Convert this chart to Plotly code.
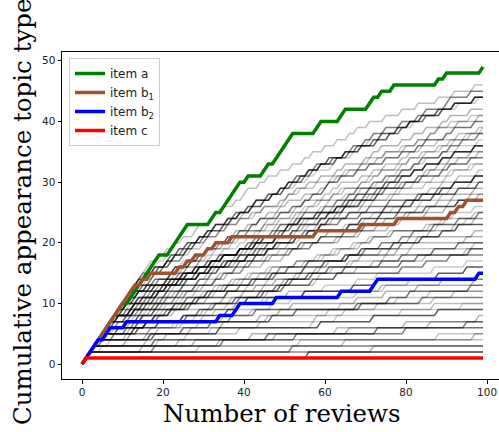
import plotly.graph_objects as go

# ---------------- data ----------------
x_reviews = list(range(100))

item_a = [0, 1, 2, 3, 4, 5, 6, 7, 8, 9,
          10, 10, 11, 12, 13, 14, 15, 16, 17, 18,
          18, 18, 19, 20, 21, 22, 23, 23, 23, 23,
          23, 23, 24, 25, 25, 26, 27, 28, 29, 30,
          30, 31, 31, 31, 31, 32, 33, 33, 34, 35,
          36, 37, 38, 38, 38, 38, 38, 38, 39, 40,
          40, 40, 40, 40, 41, 42, 42, 42, 42, 42,
          42, 43, 44, 44, 45, 45, 45, 46, 46, 46,
          46, 46, 46, 46, 46, 46, 46, 46, 47, 47,
          48, 48, 48, 48, 48, 48, 48, 48, 48, 49]

item_b1 = [0, 1, 2, 3, 4, 5, 6, 7, 8, 9,
           10, 11, 12, 13, 13, 14, 14, 15, 15, 15,
           15, 15, 15, 15, 16, 16, 17, 17, 18, 18,
           18, 19, 19, 20, 20, 20, 20, 21, 21, 21,
           21, 21, 21, 21, 21, 21, 21, 21, 21, 21,
           21, 21, 21, 21, 21, 21, 21, 21, 22, 22,
           22, 22, 22, 22, 22, 22, 22, 22, 22, 23,
           23, 23, 23, 23, 23, 23, 23, 23, 24, 24,
           24, 24, 24, 24, 24, 24, 24, 24, 24, 24,
           24, 25, 25, 26, 26, 27, 27, 27, 27, 27]

item_b2 = [0, 1, 2, 3, 4, 4, 5, 6, 6, 6,
           6, 7, 7, 7, 7, 7, 7, 7, 7, 7,
           7, 7, 7, 7, 7, 7, 7, 7, 7, 7,
           7, 7, 7, 7, 8, 8, 8, 8, 9, 10,
           10, 10, 10, 10, 10, 10, 10, 10, 11, 11,
           11, 11, 11, 11, 11, 11, 11, 11, 11, 11,
           11, 11, 11, 11, 12, 12, 12, 12, 12, 12,
           12, 12, 13, 14, 14, 14, 14, 14, 14, 14,
           14, 14, 14, 14, 14, 14, 14, 14, 14, 14,
           14, 14, 14, 14, 14, 14, 14, 14, 15, 15]

item_c = [0, 1, 1, 1, 1, 1, 1, 1, 1, 1,
          1, 1, 1, 1, 1, 1, 1, 1, 1, 1,
          1, 1, 1, 1, 1, 1, 1, 1, 1, 1,
          1, 1, 1, 1, 1, 1, 1, 1, 1, 1,
          1, 1, 1, 1, 1, 1, 1, 1, 1, 1,
          1, 1, 1, 1, 1, 1, 1, 1, 1, 1,
          1, 1, 1, 1, 1, 1, 1, 1, 1, 1,
          1, 1, 1, 1, 1, 1, 1, 1, 1, 1,
          1, 1, 1, 1, 1, 1, 1, 1, 1, 1,
          1, 1, 1, 1, 1, 1, 1, 1, 1, 1]

# other topics: 1 = topic appears in review n (reviews 1..99)
background_topics = [
    "1111111111 1111111010 1010100110 0110100101 1001010010 0100101001 0010010100 1000100010 0010000100 010000100",
    "1111111111 1111010010 0110100101 1010010010 0110001010 1000110100 0100101001 0100100010 0010100001 100001000",
    "1111111111 1111101010 1001010010 0100101001 1010010010 0010010100 0110001010 1001000100 0101000010 001000010",
    "1111111111 1110101100 1010011010 0110001010 0100101001 1001010010 1000100010 0010010100 1001000100 010000100",
    "1111111111 1111100100 1000110100 1001010010 0100100010 1010010010 0010100001 0101000010 0100100010 100001000",
    "1111111101 1101010010 0100101001 1000110100 1001010010 1000100010 1010010010 0010100001 0010010100 001000010",
    "1111111111 1101000100 0110001010 1010010010 0101000010 0100101001 1001000100 1000100010 0010100001 010000100",
    "1111111010 0101101001 1001010010 0110001010 0010010100 0100100010 0101000010 1001000100 1000100010 010010001",
    "1111111111 1111010000 0010100001 1001000100 1000100010 0010010100 0100100010 0101000010 1001000100 100001000",
    "1111111100 1010010010 1000110100 0100100010 0110001010 0010100001 0010010100 0100100010 0101000010 100100010",
    "1111111110 0100101001 1010010010 1000100010 1001000100 0101000010 1000100010 0010010100 0100100010 001000010",
    "1111111111 1100010000 0100100010 0101000010 0010100001 1001000100 0010010100 1000100010 0100100010 010000100",
    "1111110100 1010100110 1000100010 0010010100 1001000100 0100100010 0010100001 0101000010 0010010100 100001000",
    "1111111101 1001010010 0101000010 0010100001 0100100010 1000100010 0100001000 1001000100 0010100001 001000010",
    "1111111010 0110001010 1001000100 0100100010 0010010100 0101000010 1000100010 0010100001 0001000010 100001000",
    "1111111111 1010000100 0010010100 1000100010 0101000010 1000010000 1001000100 0010000100 0000100001 010000100",
    "1111101010 1000110100 0100100010 1001000100 1000100010 0010010100 0101000010 0100001000 0000010010 001000010",
    "1111111100 0010100001 1000100010 0101000010 1001000100 0100100010 0001000010 1000010000 0010000100 010000100",
    "1111100100 1010010010 0010010100 0010100001 0100100010 1001000100 0000100001 0100001000 0001000010 100001000",
    "1111111110 1001000100 0101000010 1000010000 0010010100 0010000100 0000010010 0001000010 0100001000 001000010",
    "1111110100 0100100010 0010100001 0010010100 0100001000 1000100010 1000010000 0000100001 0010000100 010000100",
    "1111111010 0010010100 0001000010 1001000100 0000100001 0100001000 0010000100 0000010010 1000010000 100001000",
    "1111111111 1100001000 0000010010 0100001000 1000010000 0001000010 0000100001 0010000100 0000100000 001000000",
    "1111110000 1000100010 1001000100 0010000100 0001000010 0000100001 0100001000 1000010000 0000010010 010000100",
    "1111101010 0101000010 1000010000 0000100001 0000010010 0010000100 0001000010 0100001000 0000100001 000000100",
    "1111100000 0010010100 0100100010 0000010010 0010000100 1000010000 0000100001 0001000010 0100001000 001000010",
    "1111111100 0100001000 0000100001 0001000010 1000010000 0000010010 0010000100 0100001000 0000000100 000010000",
    "1111100010 1001000100 0010000100 1000010000 0100001000 0000100001 0000010010 0000001000 0001000010 001000000",
    "1111110000 0000010010 0100001000 0000100001 0010000100 0001000010 1000010000 0000010010 0010000000 000000100",
    "1111111101 0001000010 0010000100 0000001000 0100001000 0010000000 0000100000 0000000100 0100000000 000010000",
    "1110100100 1000010000 0000010010 0010000100 0000100001 0100001000 1000000000 0001000010 0000001000 001000000",
    "1111111000 0000100001 0001000010 0010000000 1000010000 0000000010 0100001000 0000100000 1000000000 000000100",
    "1111000000 1010010000 0000100001 0100001000 0000010010 0000000100 0010000100 0100000000 0000100000 000010000",
    "1111101000 0010000100 1000010000 0000000010 0001000010 0000001000 0010000000 0000000010 0000100000 100000000",
    "1110001000 0100001000 0010000100 1000010000 0000100000 0000100001 0000000100 0010000000 0000001000 000010000",
    "1111100000 0001000010 0000100000 0000010010 1000000000 0000100000 0000001000 0010000000 0000000100 000010000",
    "1110000000 1000010000 0000001000 0000100000 0001000010 0100000000 0000000100 0000100000 0010000000 000000100",
    "1111111000 0000100000 0010000000 0000000100 0000010000 1000000000 0000000000 0001000000 0000000010 000000000",
    "1111000000 0000000100 0000100000 0100000000 0000001000 0010000000 0000000010 0000010000 1000000000 000001000",
    "1111010000 0010000000 0000000010 0000100000 0100000000 0000000000 0001000000 0000000100 0000010000 000000000",
    "1110000000 0000010000 1000000000 0000000010 0001000000 0000000100 0000100000 0010000000 0000001000 010000000",
    "1111110000 0001000000 0000000000 0000001000 0010000000 0000000000 0000000100 0000000000 0001000000 000000000",
    "1100100000 0000000010 0000010000 0100000000 0000000000 0000001000 0010000000 0000000010 0000000000 000100000",
    "1111000000 0000001000 0000000000 0001000000 0000000000 0000000010 0000000000 0100000000 0000000100 000000000",
    "1100000000 0000100000 0000000100 0000000000 0100000000 0000000000 0000010000 0000000001 0000000000 000000010",
    "1110000000 0000000000 0001000000 0000000000 0000000100 0000000000 0010000000 0000000000 0000010000 000000000",
    "1110000000 0000000100 0000000000 0000000000 0000010000 0000000000 0000000000 0010000000 0000000000 000000000",
    "1100000000 0000000000 0000000010 0000000000 0000000000 0001000000 0000000000 0000000000 0000000100 000000000",
    "1110000000 0000000000 0000000000 0000000000 0000000000 0000000000 0000100000 0000000000 0000000000 000000000",
    "1100000000 0000000000 0000000000 0000000000 0000000000 0100000000 0000000000 0000000000 0000000000 000000000",
    "1100000000 0000000000 0000000000 0000000000 0000000000 0000000000 0000000000 0000000000 0000000000 000000000",
    "1000000000 0000000000 0000000000 0000000000 0000000000 0000010000 0000000000 0000000000 0000000000 000000000",
    "1100000000 0000000000 0000000000 0000000000 0000000000 0000000000 0000000000 0100000000 0000000000 000000000",
    "1110000000 0000000000 0000000000 0001000000 0000000000 0000000000 0000000000 0000000000 0000000000 000000100",
    "1111111110 1011101101 1101010010 1000110100 1010010010 0110001010 0010010100 0101000010 1000100010 010000100",
    "1111111111 1011010110 0100101001 1001010010 0010100001 1001000100 0100100010 1000100010 0010010100 100001000",
    "1111111101 1010011010 0110001010 1001000100 1000110100 0010100001 0101000010 0100100010 1001000100 001000010",
    "1111111010 0110100101 0010010100 1000100010 1001000100 0101000010 0010100001 0010010100 0100100010 010000100",
    "1111110100 1001010010 1010010010 0101000010 0100100010 0010010100 1000100010 0000010010 0100001000 100001000",
    "1111111111 1001000100 1000100010 0100100010 0010000100 0000010010 1000010000 0000100001 0001000010 010000100",
    "1111110000 0100101001 1001000100 0010100001 1000010000 0100001000 0001000010 0010000100 0000100001 001000010",
    "1111010000 0101000010 0100001000 1000010000 0000100001 0010000100 0000010010 0001000010 1000010000 010000100",
    "1111111100 0010000100 0000010000 0100000000 0000000100 1000010000 0000100000 0000000010 0010000000 000001000",
    "1111000000 0100001000 0000100001 0010000000 0000001000 0100000000 0000000100 0000100000 1000000000 000000010",
    "1111100000 0000000010 0001000000 0000000000 0000010000 0000000000 1000000000 0000000000 0000001000 000000000",
    "1100000000 0000000100 0000000000 0000100000 0000000000 0010000000 0000000000 0000000001 0000000000 000010000",
]

highlight_names = ["item a", "item b<sub>1</sub>", "item b<sub>2</sub>", "item c"]
highlight_series = [item_a, item_b1, item_b2, item_c]

x_ticks = [0, 20, 40, 60, 80, 100]
y_ticks = [0, 10, 20, 30, 40, 50]

# ---------------- styles ----------------
highlight_colors = ["#008000", "#a0522d", "#0000ff", "#ff0000"]
bg_alpha_cycle = [0.25, 0.5, 0.2, 0.65, 0.3, 0.28, 0.55, 0.22]


def cumulative(bits):
    bits = bits.replace(" ", "")
    vals = [0]
    for ch in bits:
        vals.append(vals[-1] + int(ch))
    return vals


fig = go.Figure()

for i, s in enumerate(background_topics):
    yv = cumulative(s)
    a = bg_alpha_cycle[i % len(bg_alpha_cycle)]
    fig.add_trace(go.Scatter(
        x=x_reviews[:len(yv)], y=yv, mode="lines",
        line=dict(color=f"rgba(0,0,0,{a})", width=1.5),
        showlegend=False, hoverinfo="skip"))

for name, ys, col in zip(highlight_names, highlight_series, highlight_colors):
    fig.add_trace(go.Scatter(
        x=x_reviews, y=ys, mode="lines", name=name,
        line=dict(color=col, width=3.5)))

W, H = 499, 432
L, R, T, B = 62, 0, 52, 53
pw = W - L - R
ph = H - T - B

fig.update_layout(
    width=W, height=H,
    margin=dict(l=L, r=R, t=T, b=B, pad=0),
    paper_bgcolor="white", plot_bgcolor="white",
    font=dict(family="DejaVu Sans", color="black"),
    legend=dict(
        x=(69 - L) / pw, y=(H - B - 58) / ph, xanchor="left", yanchor="top",
        bgcolor="rgba(255,255,255,0.85)", bordercolor="#cccccc", borderwidth=1,
        font=dict(family="DejaVu Sans", size=12, color="#222222"),
        tracegroupgap=0, itemwidth=30,
    ),
    xaxis=dict(
        range=[-4.95, 102.95], tickvals=x_ticks, ticktext=[str(v) for v in x_ticks],
        showgrid=False, zeroline=False, showline=True, linecolor="black", linewidth=1,
        mirror=True, ticks="outside", ticklen=3.5, tickwidth=1, tickcolor="black",
        tickfont=dict(family="DejaVu Sans", size=10.5, color="#222222"),
    ),
    yaxis=dict(
        range=[-2.45, 51.45], tickvals=y_ticks, ticktext=[str(v) for v in y_ticks],
        showgrid=False, zeroline=False, showline=True, linecolor="black", linewidth=1,
        mirror=False, ticks="outside", ticklen=3.5, tickwidth=1, tickcolor="black",
        tickfont=dict(family="DejaVu Sans", size=10.5, color="#222222"),
    ),
    annotations=[
        dict(text="Number of reviews", xref="paper", yref="paper",
             x=(282 - L) / pw, y=(H - B - 413) / ph, xanchor="center", yanchor="middle",
             showarrow=False, font=dict(family="DejaVu Serif", size=24.5, color="black")),
        dict(text="Cumulative appearance topic type", xref="paper", yref="paper",
             x=(22 - L) / pw, y=(H - B - 212) / ph, xanchor="center", yanchor="middle",
             textangle=-90, showarrow=False,
             font=dict(family="DejaVu Serif", size=24.5, color="black")),
    ],
)

fig.write_html("out.html")
